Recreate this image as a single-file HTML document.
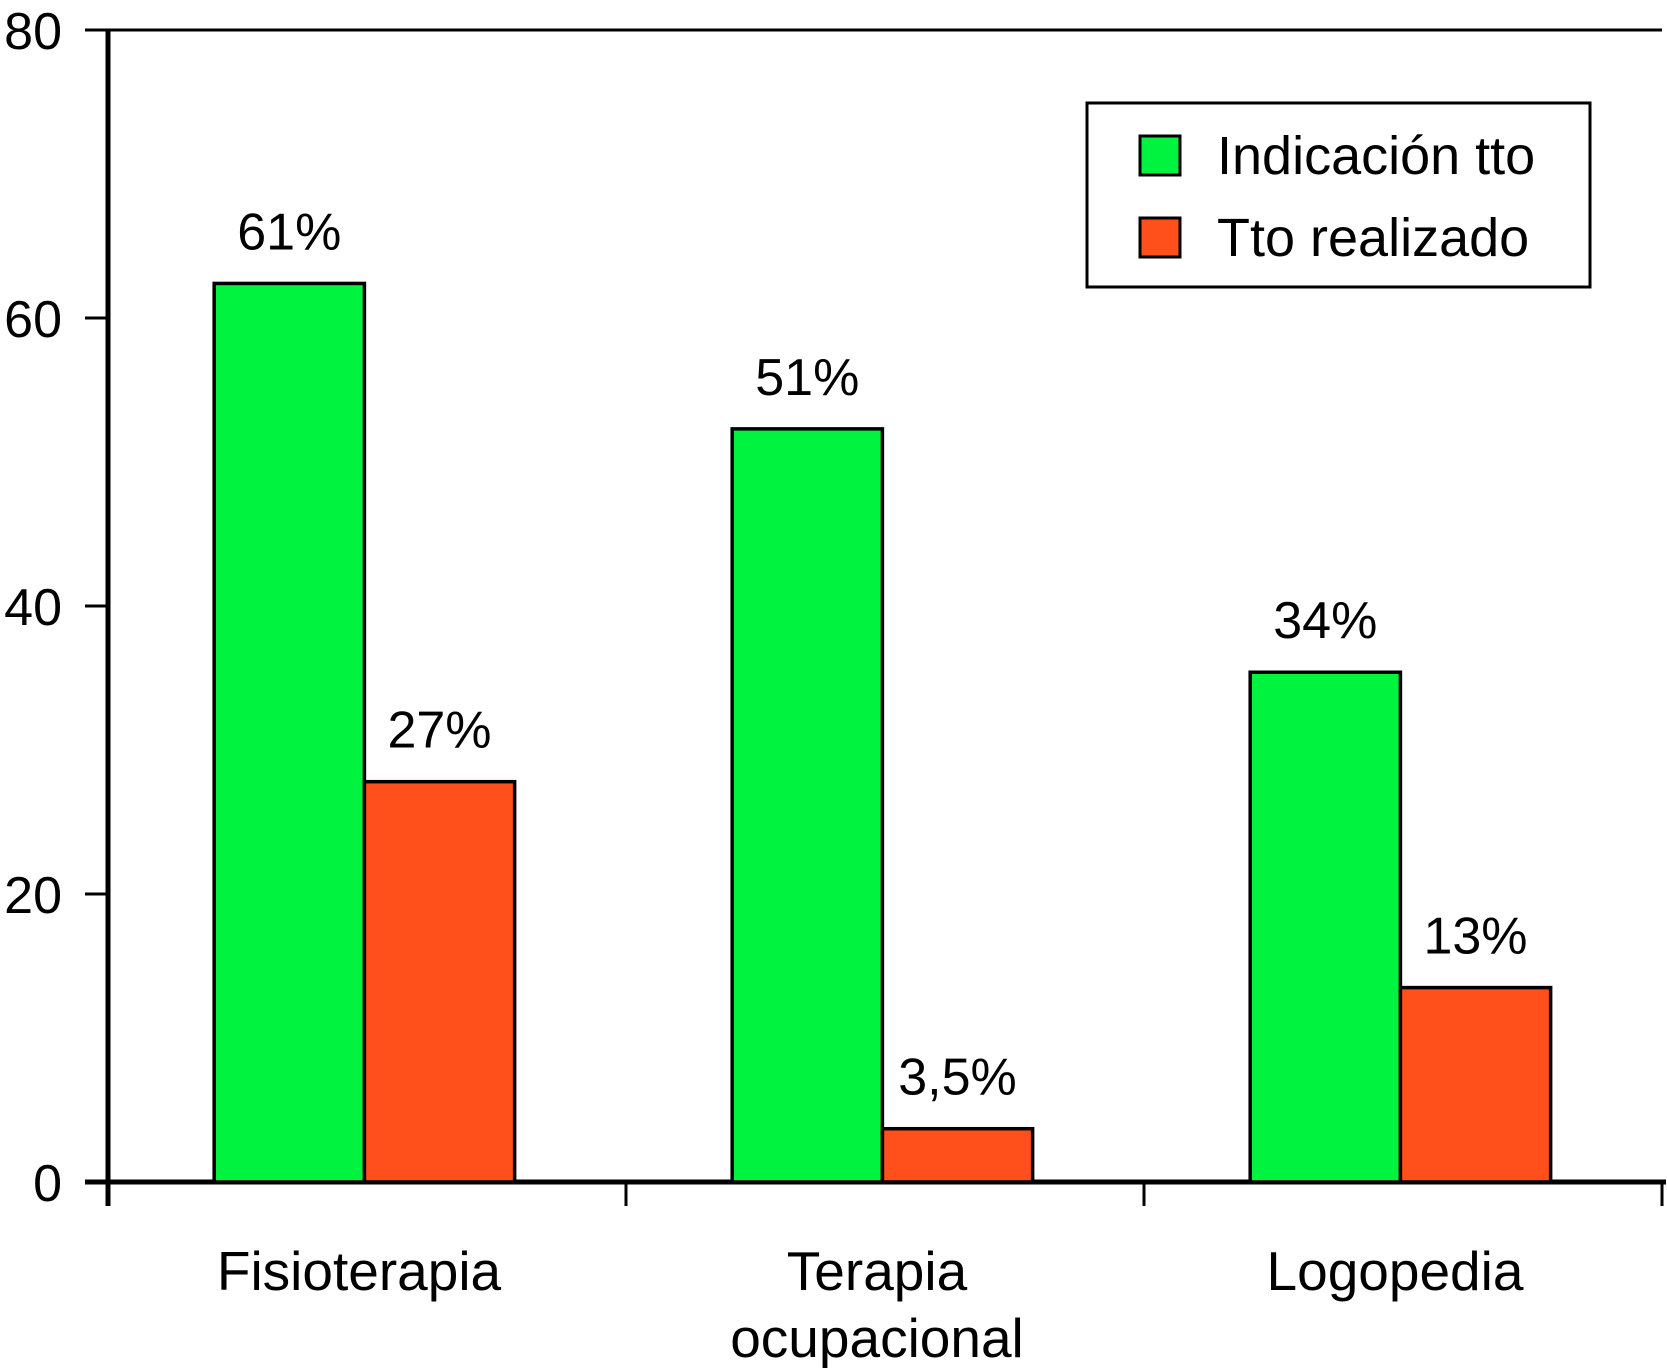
<!DOCTYPE html>
<html><head><meta charset="utf-8"><style>
html,body{margin:0;padding:0;background:#fff;}
svg{display:block;font-family:"Liberation Sans",Arial,sans-serif;}
</style></head><body>
<svg id="chart" width="1667" height="1368" viewBox="0 0 1667 1368" xmlns="http://www.w3.org/2000/svg"></svg>
<script>
const categories = [["Fisioterapia"], ["Terapia", "ocupacional"], ["Logopedia"]];
const indicacion = [62.4, 52.3, 35.4];
const realizado = [27.8, 3.7, 13.5];
const indicacionLabels = ["61%", "51%", "34%"];
const realizadoLabels = ["27%", "3,5%", "13%"];
const yTicks = [0, 20, 40, 60, 80];

const NS = "http://www.w3.org/2000/svg";
const svg = document.getElementById("chart");
const X0 = 108, X1 = 1662, Y0 = 1182, Y1 = 30;
const y = v => Y0 - (v / 80) * (Y0 - Y1);
const catW = (X1 - X0) / 3;
const barW = 0.29 * catW;
const groupLeft = i => X0 + i * catW + 0.205 * catW;

function mk(tag, attrs, parent) {
  const e = document.createElementNS(NS, tag);
  for (const k in attrs) e.setAttribute(k, attrs[k]);
  (parent || svg).appendChild(e);
  return e;
}

let a = mk("line", {x1: X0, y1: Y1, x2: X0, y2: Y0 + 24, stroke: "#000", "stroke-width": 5});


a = mk("line", {x1: X0, y1: Y1, x2: X1, y2: Y1, stroke: "#000", "stroke-width": 3});


a = mk("line", {x1: 85, y1: Y0, x2: X1 + 4, y2: Y0, stroke: "#000", "stroke-width": 5});



yTicks.forEach(t => {
  const l = mk("line", {x1: 85, y1: y(t), x2: X0, y2: y(t), stroke: "#000", "stroke-width": 3});
  
  
  const tx = mk("text", {x: 62, y: y(t) + 19, "text-anchor": "end", "font-size": 52});
  tx.textContent = t;
  
  
});

for (let i = 0; i <= 3; i++) {
  const xx = X0 + i * catW;
  const l = mk("line", {x1: xx, y1: Y0, x2: xx, y2: Y0 + 24, stroke: "#000", "stroke-width": 3});
  
  
}

categories.forEach((lines, i) => {
  const cx = X0 + (i + 0.5) * catW - 8;
  lines.forEach((s, j) => {
    const tx = mk("text", {x: cx, y: 1290 + j * 67, "text-anchor": "middle", "font-size": 55});
    tx.textContent = s;
    
    
  });
});

function bars(vals, labels, offset, color, name) {
  vals.forEach((v, i) => {
    const bx = groupLeft(i) + offset * barW;
    const r = mk("rect", {x: bx, y: y(v), width: barW, height: Y0 - y(v), fill: color, stroke: "#000", "stroke-width": 3.5});
    
    
    const tx = mk("text", {x: bx + barW / 2, y: y(v) - 34, "text-anchor": "middle", "font-size": 52});
    tx.textContent = labels[i];
    
    
  });
}
bars(indicacion, indicacionLabels, 0, "#00f33f", "indicacion");
bars(realizado, realizadoLabels, 1, "#ff4f1a", "realizado");

const lg = mk("g", {});


mk("rect", {x: 1087, y: 103, width: 503, height: 184, fill: "#fff", stroke: "#000", "stroke-width": 3}, lg);
const legendItems = [["Indicación tto", "#00f33f", 136], ["Tto realizado", "#ff4f1a", 218]];
legendItems.forEach(([txt, col, yy]) => {
  const s = mk("rect", {x: 1140, y: yy, width: 40, height: 39, fill: col, stroke: "#000", "stroke-width": 3}, lg);
  
  
  const t = mk("text", {x: 1217, y: yy + 38, "font-size": 54}, lg);
  t.textContent = txt;
  
  
});
</script>
</body></html>
